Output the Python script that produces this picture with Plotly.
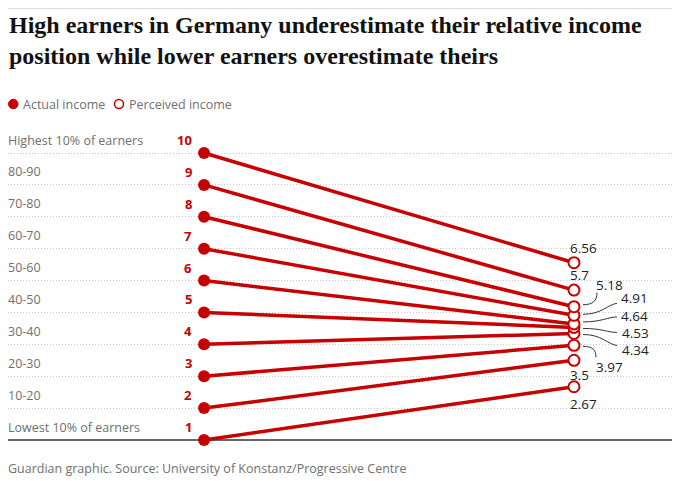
import plotly.graph_objects as go

categories = ["Lowest 10% of earners", "10-20", "20-30", "30-40", "40-50",
              "50-60", "60-70", "70-80", "80-90", "Highest 10% of earners"]
actual = [1, 2, 3, 4, 5, 6, 7, 8, 9, 10]
perceived = [2.67, 3.5, 3.97, 4.34, 4.53, 4.64, 4.91, 5.18, 5.7, 6.56]
perceived_labels = ["2.67", "3.5", "3.97", "4.34", "4.53", "4.64", "4.91", "5.18", "5.7", "6.56"]

RED = "#c70000"
GREY = "#707070"
DARK = "#121212"
OFF = 8  # page body margin
W, H = 680 - OFF, 481 - OFF
ML, MR, MT, MB = 0, 8, 131, 38
XR = [-0.53, 1.265]
YR = [0.906, 10.439]
PPX = (W - ML - MR) / (XR[1] - XR[0])
PPY = (H - MT - MB) / (YR[1] - YR[0])

SANS = "Open Sans"

fig = go.Figure()

for a, p in zip(actual, perceived):
    fig.add_trace(go.Scatter(x=[0, 1], y=[a, p], mode="lines",
                             line=dict(color=RED, width=3.5),
                             showlegend=False, hoverinfo="skip", cliponaxis=False))

fig.add_trace(go.Scatter(x=[0] * len(actual), y=actual, mode="markers",
                         marker=dict(color=RED, size=12, line=dict(width=0)),
                         showlegend=False, cliponaxis=False))
fig.add_trace(go.Scatter(x=[1] * len(perceived), y=perceived, mode="markers",
                         marker=dict(color="white", size=11, line=dict(color=RED, width=2)),
                         showlegend=False, cliponaxis=False))

ann = []
shapes = []

for c, a in zip(categories, actual):
    ann.append(dict(x=0, xref="paper", y=a, yref="y", text=c, showarrow=False,
                    xanchor="left", yanchor="middle", yshift=13, xshift=-2,
                    font=dict(family=SANS, size=12.5, color=GREY)))
    ann.append(dict(x=0, y=a, text="<b>%d</b>" % a, showarrow=False,
                    xanchor="right", yanchor="middle", xshift=-10, yshift=13,
                    font=dict(family=SANS, size=13, color=RED)))

label_pos = {
    "6.56": (-6, -15, None),
    "5.7": (-6, -15, None),
    "3.5": (-6, 15, None),
    "2.67": (-6, 17, None),
    "5.18": (20, -22, ((9, -2), (19, -2), (23, -6), (23, -14))),
    "4.91": (45, -17, ((9, -1), (28, -1), (34, -11), (43, -12))),
    "4.64": (45, -8, ((9, -2), (28, -2), (34, -7), (43, -7))),
    "4.53": (46, 6, ((9, 1), (28, 1), (34, 5), (43, 5))),
    "4.34": (46, 17, ((9, 1), (28, 1), (34, 11), (43, 12))),
    "3.97": (20, 22, ((9, 1), (19, 1), (22, 5), (22, 12))),
}


def to_data(p_val, dx, dy):
    return 1 + dx / PPX, p_val - dy / PPY


for p, lab in zip(perceived, perceived_labels):
    dx, dy, leader = label_pos[lab]
    ann.append(dict(x=1, y=p, text=lab, showarrow=False, xanchor="left",
                    yanchor="middle", xshift=dx, yshift=-dy,
                    font=dict(family=SANS, size=13.5, color="#222222")))
    if leader:
        pts = [to_data(p, *q) for q in leader]
        path = "M %f,%f C %f,%f %f,%f %f,%f" % (pts[0][0], pts[0][1], pts[1][0], pts[1][1],
                                               pts[2][0], pts[2][1], pts[3][0], pts[3][1])
        shapes.append(dict(type="path", path=path, xref="x", yref="y",
                           line=dict(color="#333333", width=1)))


def py(s):
    return (H - MB - (s - OFF)) / (H - MT - MB)


def px(s):
    return (s - OFF - ML) / (W - ML - MR)


shapes.append(dict(type="line", xref="paper", yref="y", x0=0, x1=1, y0=1, y1=1,
                   line=dict(color="#333333", width=1.5), layer="below"))
shapes.append(dict(type="line", xref="paper", yref="paper", x0=0, x1=1,
                   y0=py(8.5), y1=py(8.5), line=dict(color="#dcdcdc", width=1)))

ann.append(dict(x=px(7), xref="paper", y=py(10), yref="paper", xanchor="left", yanchor="top",
                align="left", showarrow=False,
                text="<b>High earners in Germany underestimate their relative income<br>position while lower earners overestimate theirs</b>",
                font=dict(family="Liberation Serif", size=24, color=DARK)))

shapes.append(dict(type="circle", xref="paper", yref="paper",
                   x0=px(8.5), x1=px(18), y0=py(108.8), y1=py(99.3),
                   fillcolor=RED, line=dict(color=RED, width=1)))
ann.append(dict(x=px(21), xref="paper", y=py(104), yref="paper", xanchor="left",
                yanchor="middle", showarrow=False, text="Actual income",
                font=dict(family=SANS, size=12.5, color=GREY)))
shapes.append(dict(type="circle", xref="paper", yref="paper",
                   x0=px(114.5), x1=px(123.5), y0=py(108.5), y1=py(99.5),
                   fillcolor="white", line=dict(color=RED, width=1.5)))
ann.append(dict(x=px(127), xref="paper", y=py(104), yref="paper", xanchor="left",
                yanchor="middle", showarrow=False, text="Perceived income",
                font=dict(family=SANS, size=12.5, color=GREY)))

ann.append(dict(x=px(6), xref="paper", y=py(468), yref="paper", xanchor="left",
                yanchor="middle", showarrow=False,
                text="Guardian graphic. Source: University of Konstanz/Progressive Centre",
                font=dict(family=SANS, size=12.5, color=GREY)))

fig.update_layout(
    width=W, height=H,
    margin=dict(l=ML, r=MR, t=MT, b=MB),
    paper_bgcolor="white", plot_bgcolor="white",
    xaxis=dict(range=XR, visible=False, fixedrange=True),
    yaxis=dict(range=YR, tickvals=actual[1:], showticklabels=False, showgrid=True,
               gridcolor="#c8c8c8", griddash="1px,2px", gridwidth=1, zeroline=False,
               showline=False, ticks="", fixedrange=True),
    annotations=ann, shapes=shapes, showlegend=False,
)

fig.write_html("out.html")
